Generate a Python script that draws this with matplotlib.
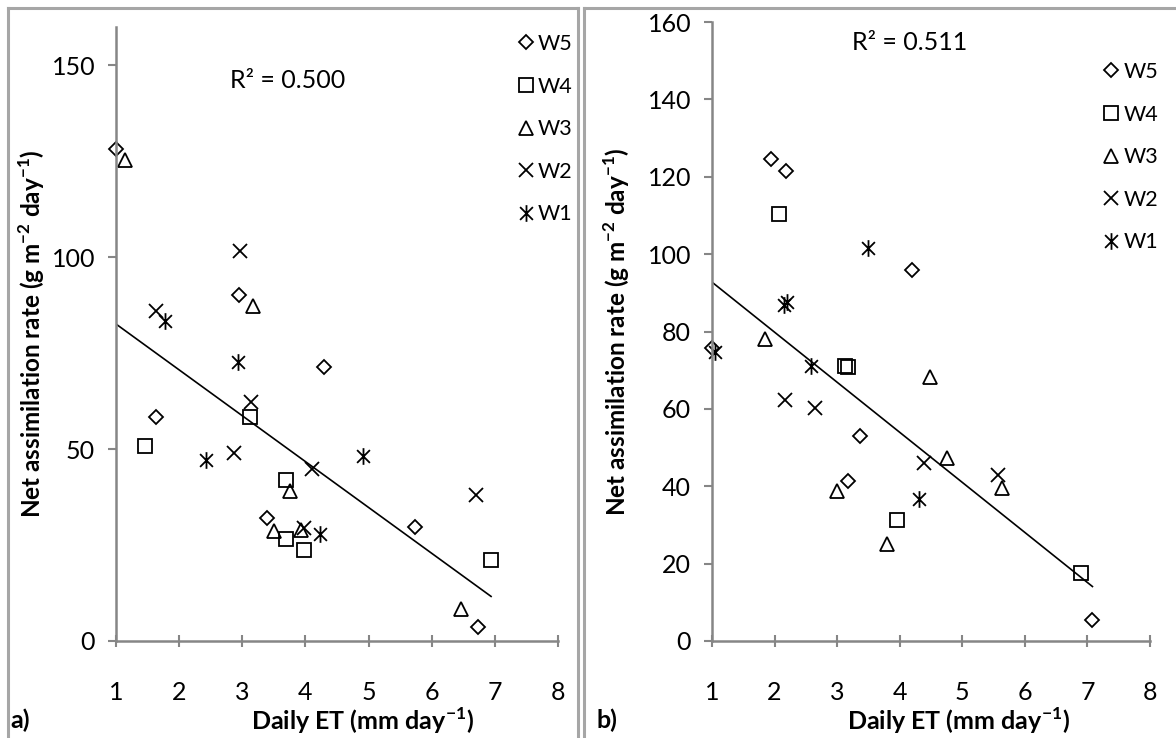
import numpy as np
import matplotlib.pyplot as plt
from matplotlib.path import Path
from matplotlib.lines import Line2D

plt.rcParams['font.family'] = ['Lato', 'DejaVu Sans']
plt.rcParams['mathtext.fontset'] = 'custom'
plt.rcParams['mathtext.rm'] = 'Lato'
plt.rcParams['mathtext.bf'] = 'Lato:bold'

# --- panel a) data (Daily ET, net assimilation rate) ---
a_w5_x = [1.00, 1.64, 2.95, 4.29, 3.39, 5.73, 6.74]
a_w5_y = [128.1, 58.4, 90.2, 71.3, 32.0, 29.7, 3.7]
a_w4_x = [1.46, 3.13, 3.70, 3.70, 3.98, 6.94]
a_w4_y = [50.7, 58.4, 41.9, 26.7, 23.7, 21.1]
a_w3_x = [1.15, 3.17, 3.76, 3.50, 3.93, 6.47]
a_w3_y = [125.4, 87.4, 39.1, 28.7, 28.9, 8.3]
a_w2_x = [1.63, 2.97, 3.14, 2.87, 4.11, 3.98, 6.70]
a_w2_y = [86.1, 101.6, 62.4, 49.0, 44.8, 29.4, 38.0]
a_w1_x = [1.77, 2.94, 2.43, 4.91, 4.23]
a_w1_y = [83.3, 72.6, 47.1, 48.1, 28.0]
a_fit = (-11.95, 94.55)   # slope, intercept of the trend line
a_r2 = 'R² = 0.500'

# --- panel b) data ---
b_w5_x = [1.94, 2.18, 4.19, 1.00, 3.37, 3.17, 7.08]
b_w5_y = [124.6, 121.6, 95.8, 75.8, 53.0, 41.3, 5.4]
b_w4_x = [2.07, 3.13, 3.17, 3.95, 6.90]
b_w4_y = [110.4, 71.0, 70.8, 31.3, 17.6]
b_w3_x = [1.85, 4.49, 4.76, 5.64, 2.99, 3.79]
b_w3_y = [78.0, 68.3, 47.2, 39.6, 38.7, 25.2]
b_w2_x = [2.17, 2.64, 4.39, 5.57]
b_w2_y = [62.2, 60.2, 45.9, 42.9]
b_w1_x = [3.50, 2.15, 2.20, 1.04, 2.58, 4.31]
b_w1_y = [101.7, 86.8, 87.6, 74.8, 71.1, 36.7]
b_fit = (-12.94, 105.7)
b_r2 = 'R² = 0.511'

labels = ['W5', 'W4', 'W3', 'W2', 'W1']

# asterisk marker = x with a vertical bar
star = Path([(-1, -1), (1, 1), (-1, 1), (1, -1), (0, -1.3), (0, 1.3)],
            [Path.MOVETO, Path.LINETO, Path.MOVETO, Path.LINETO, Path.MOVETO, Path.LINETO])
markers = ['D', 's', '^', 'x', star]
msizes = [7.5, 10, 10, 10, 12]

fig = plt.figure(figsize=(11.76, 7.38), dpi=100)
W, H = 1176, 738

def px(x0, y0, x1, y1):
    return [x0 / W, 1 - y1 / H, (x1 - x0) / W, (y1 - y0) / H]

ax_a = fig.add_axes(px(116, 27, 558, 641))
ax_b = fig.add_axes(px(712, 22, 1150, 641))

panels = [
    (ax_a, [(a_w5_x, a_w5_y), (a_w4_x, a_w4_y), (a_w3_x, a_w3_y), (a_w2_x, a_w2_y), (a_w1_x, a_w1_y)],
     a_fit, a_r2, (2.81, 146), 50, (0.557, -0.106), (-0.155, 0.50), (0.442, 0.954)),
    (ax_b, [(b_w5_x, b_w5_y), (b_w4_x, b_w4_y), (b_w3_x, b_w3_y), (b_w2_x, b_w2_y), (b_w1_x, b_w1_y)],
     b_fit, b_r2, (3.24, 154.8), 20, (0.562, -0.105), (-0.183, 0.50), (0.9396, 0.916)),
]

grey = '#868686'
for ax, series, fit, r2, r2pos, ystep, xlab, ylab, legpos in panels:
    for (x, y), lab, m, ms in zip(series, labels, markers, msizes):
        ax.plot(x, y, linestyle='none', marker=m, ms=ms, mfc='none', mec='black',
                mew=1.3, label=lab, clip_on=False)
    allx = np.concatenate([np.array(s[0]) for s in series])
    xs = np.array([allx.min(), allx.max()])
    ax.plot(xs, fit[0] * xs + fit[1], color='black', lw=1.2)
    ax.text(r2pos[0], r2pos[1], r2, fontsize=18, va='center')

    ax.set_xlim(1, 8)
    ax.set_ylim(0, 160)
    ax.set_xticks(range(1, 9))
    ax.set_yticks(np.arange(0, 161, ystep))
    for s in ['top', 'right']:
        ax.spines[s].set_visible(False)
    for s in ['left', 'bottom']:
        ax.spines[s].set_color(grey)
        ax.spines[s].set_linewidth(1.8)
    ax.tick_params(axis='x', direction='inout', length=9, width=1.5, color=grey,
                   labelsize=18, pad=24)
    ax.tick_params(axis='y', direction='out', length=6, width=1.5, color=grey,
                   labelsize=18, pad=9)
    ax.set_xlabel(r'Daily ET (mm day$^{\mathbf{-1}}$)', fontsize=18, fontweight='bold')
    ax.set_ylabel(r'Net assimilation rate (g m$^{\mathbf{-2}}$ day$^{\mathbf{-1}}$)',
                  fontsize=17.5, fontweight='bold')
    ax.xaxis.set_label_coords(*xlab)
    ax.yaxis.set_label_coords(*ylab)
    ax.legend(loc='upper left', bbox_to_anchor=legpos, bbox_transform=fig.transFigure,
              frameon=False, fontsize=15.5, handlelength=0.6, handletextpad=0.25,
              labelspacing=1.05, borderaxespad=0, borderpad=0)

fig.text(10 / W, 1 - 720 / H, 'a)', fontsize=18, fontweight='bold', va='center')
fig.text(596 / W, 1 - 720 / H, 'b)', fontsize=18, fontweight='bold', va='center')

# chart-area frames
border = '#a6a6a6'
for xs_, ys_ in [([8, 8], [738, 8]), ([8, 578], [8, 8]), ([578, 578], [8, 738]),
                 ([584, 584], [738, 8]), ([584, 1176], [8, 8])]:
    fig.add_artist(Line2D([v / W for v in xs_], [1 - v / H for v in ys_],
                          transform=fig.transFigure, color=border, lw=2.2))

fig.savefig('out.png', dpi=100)
